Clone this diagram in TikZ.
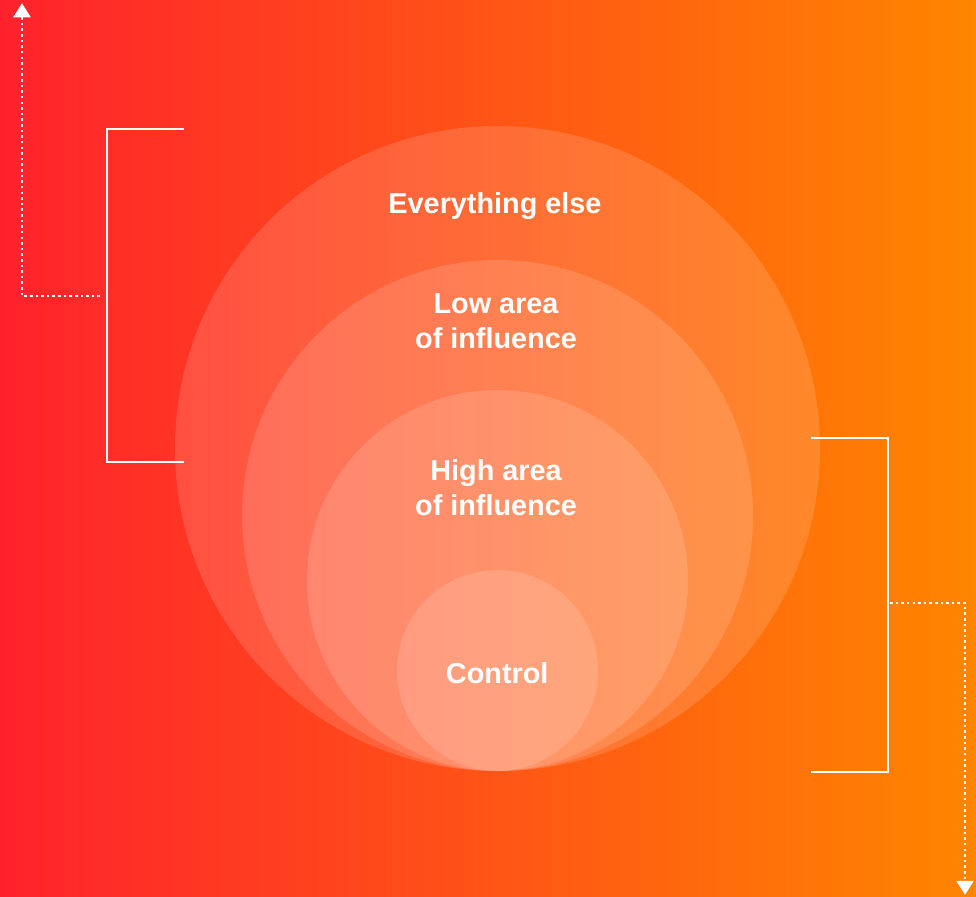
\documentclass[tikz,border=0pt]{standalone}
\usepackage{fontspec}
\setmainfont{Liberation Sans}
\usetikzlibrary{arrows.meta}
\definecolor{bgleft}{RGB}{255,34,44}
\definecolor{bgmid}{RGB}{255,70,6}
\definecolor{bgright}{RGB}{255,134,0}
\tikzset{
  disc/.style={circle, fill=white, fill opacity=0.14, inner sep=0pt, minimum size=#1},
  label/.style={text=white, font=\bfseries\fontsize{20.5}{25}\selectfont, align=center},
  bracket/.style={draw=white, line width=1.6pt},
  pointer/.style={draw=white, line width=1.8pt, dash pattern=on 1.8pt off 2.2pt,
    -{Triangle[width=12pt,length=10pt]}}
}

\begin{document}
\begin{tikzpicture}
  %tikz  circles of influence
    \def\bot{3.125}
    \def\cx{12.4375}
    \shade[left color=bgleft, middle color=bgmid, right color=bgright] (0,0) rectangle (24.4,22.4);
    \node (outer) [disc=16.125cm] at (\cx,\bot+8.0625) {};
    \node (low) [disc=12.775cm] at (\cx,\bot+6.3875) {};
    \node (high) [disc=9.525cm] at (\cx,\bot+4.7625) {};
    \node (ctrl) [disc=5.025cm] at (\cx,\bot+2.5125) {};
    \node (tout) [label] at (12.375,17.25) {Everything else};
    \node (tlow) [label] at (12.4,14.36) {Low area\\of influence};
    \node (thigh) [label] at (12.4,10.2) {High area\\of influence};
    \node (tctrl) [label] at (12.43,5.575) {Control};
    % left bracket
    \coordinate (la) at (4.6,19.175);
    \coordinate (lb) at (2.675,19.175);
    \coordinate (lc) at (2.675,10.85);
    \coordinate (ld) at (4.6,10.85);
    \coordinate (lm) at (2.5,15);
    \coordinate (lk) at (0.55,15);
    \coordinate (lup) at (0.55,22.32);
    \draw[bracket] (la) -- (lb) -- (lc) -- (ld);
    \draw[pointer] (lm) -- (lk) -- (lup);
    % right bracket
    \coordinate (ra) at (20.275,11.45);
    \coordinate (rb) at (22.2,11.45);
    \coordinate (rc) at (22.2,3.1);
    \coordinate (rd) at (20.275,3.1);
    \coordinate (rm) at (22.25,7.325);
    \coordinate (rk) at (24.125,7.325);
    \coordinate (rdown) at (24.125,0.03);
    \draw[bracket] (ra) -- (rb) -- (rc) -- (rd);
    \draw[pointer] (rm) -- (rk) -- (rdown);
  \end{tikzpicture}
\end{document}
